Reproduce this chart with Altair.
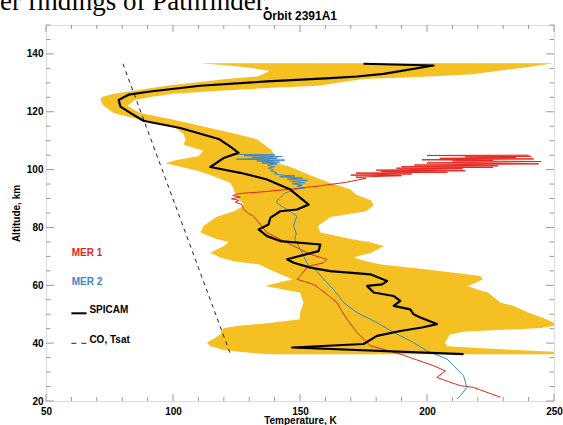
import altair as alt
import pandas as pd

# ---------------- data ----------------
band_alt = [136.8, 136.0, 135.1, 134.2, 133.0, 132.2, 131.3, 130.0, 129.0, 128.2,
            127.3, 126.2, 125.1, 124.1, 122.1, 119.6, 117.2, 114.9, 112.5, 110.5,
            108.6, 106.5, 104.6, 103.2, 102.2, 101.0, 99.5, 97.7, 95.4, 93.1,
            91.4, 89.3, 87.6, 85.6, 83.6, 80.5, 78.3, 76.0, 75.0, 73.6,
            71.3, 69.6, 68.3, 67.2, 65.5, 63.2, 62.1, 60.8, 59.8, 58.5,
            57.5, 54.0, 52.9, 50.5, 48.3, 47.0, 46.0, 45.2, 44.0, 43.0,
            41.5, 40.2, 38.9, 37.6, 37.0, 36.2]
band_lo = [110.7, 122, 131, 138, 135.5, 133, 121, 108, 97.6, 91.5,
           84.5, 76.6, 72, 71.4, 72.7, 76.6, 87.1, 100.2, 104, 105,
           104.2, 112, 110, 101, 97, 103, 110, 116, 122.6, 124,
           124.5, 126.5, 128, 124, 117, 112, 110.8, 117, 122, 120,
           114.7, 118.6, 124, 134, 138, 144, 147, 141, 136.3, 144,
           150, 151.4, 151, 150, 150, 138, 126, 120, 119, 118.6,
           116, 113.4, 114.7, 120, 126, 137]
band_hi = [250, 244, 237, 228, 218, 201, 175, 165, 157, 137,
           118, 100, 91, 85, 82, 87, 100.2, 112, 124, 133,
           136, 139, 140, 138, 141, 146, 150, 155, 162, 170,
           172, 178, 179, 176, 162, 157, 158, 170, 177, 183,
           178, 171, 176, 182, 200, 221, 222, 219, 216, 220,
           224, 229, 234, 240, 247, 250, 250, 245, 215, 209,
           208, 207, 208, 235, 250, 250]

spicam_T = [175, 202.6, 182.9, 172.4, 162, 137, 110.7, 91, 82.5, 78.6,
            79.3, 83.2, 88.3, 102.9, 118, 123, 125.8, 119.9, 114.7, 126.5,
            137, 146.2, 153.4, 148.8, 142.2, 138.3, 137.6, 133.7, 137, 142.2,
            158, 157.3, 144.9, 147.5, 154.1, 161.9, 177.7, 184.3, 182.3, 176.4,
            179, 186.9, 189.5, 186.9, 193.4, 194.7, 197.4, 203.9, 198, 189.5,
            180.3, 175, 146.9, 214.4]
spicam_alt = [136.6, 136.0, 133.1, 132.2, 131.6, 130.5, 129.0, 127.0, 125.9, 124.1,
              121.8, 119.6, 116.9, 114.4, 110.6, 107.7, 105.8, 104.0, 100.9, 98.9,
              96.6, 93.1, 87.9, 86.2, 85.6, 83.3, 81.0, 79.3, 77.0, 75.3,
              74.1, 71.8, 69.0, 67.8, 66.1, 64.9, 63.8, 61.5, 60.3, 59.8,
              57.5, 56.3, 54.6, 52.9, 51.7, 50.0, 48.9, 46.6, 45.4, 44.2,
              42.5, 39.7, 38.5, 36.2]

mer1_T = [240, 200, 241, 215, 235, 205, 242, 198, 226, 210,
          245, 200, 244, 195, 228, 190, 226, 188, 214, 180,
          215, 182, 208, 172, 194, 170, 190, 172, 176, 168,
          158, 146, 135, 125.8, 123.5, 126.5, 123, 126, 124.5, 127.2,
          127.8, 129.5, 131.7, 134.4, 137, 142.2, 147.5, 154.1, 160.6, 159.3,
          153, 150.1, 148.8, 155.4, 160.6, 164.6, 166.5, 168.5, 172.4, 177.7,
          189.5, 202.6, 207.2, 203.9, 206.5, 213.1, 218.3, 228.9]
mer1_alt = [105.0, 104.9, 104.6, 104.4, 104.2, 103.9, 103.7, 103.4, 103.2, 103.0,
            102.8, 102.3, 102.0, 101.6, 101.3, 101.0, 100.8, 100.5, 100.3, 99.8,
            99.6, 99.3, 99.1, 98.8, 98.5, 98.1, 97.9, 97.4, 97.0, 95.6,
            94.4, 93.2, 92.3, 91.7, 91.0, 90.5, 89.9, 89.4, 88.8, 87.9,
            86.2, 85.0, 83.9, 81.0, 78.2, 75.9, 73.6, 70.7, 69.0, 67.8,
            66.5, 63.2, 62.1, 60.3, 56.9, 54.0, 51.0, 48.3, 43.7, 39.1,
            36.2, 32.2, 30.4, 28.2, 27.3, 25.3, 24.7, 21.3]

mer2_T = [126, 140, 128, 143, 131, 141, 125, 144, 133, 142,
          135, 141, 137, 140, 137.5, 139.5, 138.5, 141, 140, 143,
          148, 142, 151, 145, 153, 146, 152, 147, 151, 148.8,
          152, 148, 146, 144, 143, 142.2, 141, 140.9, 143, 144.9,
          147, 148.8, 148, 147.5, 148.5, 148, 149.5, 150.8, 152, 153.4,
          156, 159.3, 163.2, 167.2, 172.4, 180.3, 186.9, 194.7, 200, 207.9,
          211.8, 214.4, 215.7, 213.1, 211.8]
mer2_alt = [105.3, 105.1, 104.8, 104.5, 104.2, 103.9, 103.6, 103.3, 103.0, 102.6,
            102.3, 102.0, 101.5, 101.0, 100.5, 100.0, 99.5, 99.0, 98.5, 98.1,
            97.8, 97.5, 97.1, 96.7, 96.3, 95.9, 95.5, 95.1, 94.7, 94.2,
            93.7, 93.1, 92.5, 91.8, 91.0, 90.2, 89.3, 88.5, 87.2, 86.2,
            85.0, 83.9, 82.2, 80.4, 78.0, 75.9, 73.5, 71.3, 69.0, 66.7,
            65.5, 62.1, 58.6, 54.0, 50.6, 47.1, 43.7, 40.2, 37.3, 34.5,
            31.0, 28.7, 24.7, 21.8, 20.7]

tsat_T = [80.3, 122.6]
tsat_alt = [136.6, 36.2]

x_labels = [50, 100, 150, 200, 250]
y_labels = [20, 40, 60, 80, 100, 120, 140]
x_minor = [v for v in range(50, 251, 10) if v % 50]
y_minor = [v for v in range(20, 151, 5) if v % 20]

title_text = "Orbit 2391A1"
page_text = "er findings of Pathfinder."

# ---------------- styling ----------------
W, H = 508, 376
YELLOW = "#f5c022"
RED = "#e3261f"
BLUE = "#3b87c9"
GRAY = "#999999"
SANS = "Liberation Sans"

xs = alt.Scale(domain=[50, 250], nice=False, zero=False)
ys = alt.Scale(domain=[20, 150], nice=False, zero=False)

xaxis = alt.Axis(values=x_labels, ticks=False, domain=False, grid=False,
                 labelFont=SANS, labelFontWeight="bold", labelFontSize=10,
                 labelColor="black", labelPadding=5, labelFlush=False, labelOverlap=False,
                 titleFont=SANS, titleFontWeight="bold", titleFontSize=10, titleColor="black",
                 titleX=254, titleY=22.5, titleBaseline="alphabetic", titleAlign="center")
yaxis = alt.Axis(values=y_labels, ticks=False, domain=False, grid=False,
                 labelFont=SANS, labelFontWeight="bold", labelFontSize=10,
                 labelColor="black", labelPadding=3, labelFlush=False, labelOverlap=False,
                 titleFont=SANS, titleFontWeight="bold", titleFontSize=10, titleColor="black",
                 titleX=-27, titleY=188, titleAngle=270, titleBaseline="alphabetic",
                 titleAlign="center")

XT = "Temperature, K"
YT = "Altitude, km"


def X(f):
    return alt.X(f, type="quantitative", scale=xs, axis=xaxis, title=XT)


def Y(f):
    return alt.Y(f, type="quantitative", scale=ys, axis=yaxis, title=YT)


band_df = pd.DataFrame({"alt": band_alt, "lo": band_lo, "hi": band_hi})
band = alt.Chart(band_df).mark_area(orient="horizontal", color=YELLOW, opacity=1,
                                    interpolate="linear").encode(
    y=Y("alt"), x=X("lo"), x2=alt.X2("hi"))


def line(T, A, color, width, dash=None):
    df = pd.DataFrame({"T": T, "alt": A, "i": range(len(T))})
    kw = dict(color=color, strokeWidth=width, strokeJoin="round")
    if dash:
        kw["strokeDash"] = dash
    return alt.Chart(df).mark_line(**kw).encode(x=X("T"), y=Y("alt"), order=alt.Order("i:Q"))


tsat = line(tsat_T, tsat_alt, "#222222", 1, [4, 4])
mer1 = line(mer1_T, mer1_alt, RED, 1)
mer2 = line(mer2_T, mer2_alt, BLUE, 1)
spicam = line(spicam_T, spicam_alt, "black", 2.2)


def xticks(vals, length):
    df = pd.DataFrame({"v": vals})
    bot = alt.Chart(df).mark_rule(color=GRAY, strokeWidth=1).encode(
        x=X("v"), y=alt.value(H), y2=alt.value(H - length))
    top = alt.Chart(df).mark_rule(color=GRAY, strokeWidth=1).encode(
        x=X("v"), y=alt.value(0), y2=alt.value(length))
    return [bot, top]


def yticks(vals, length):
    df = pd.DataFrame({"v": vals})
    left = alt.Chart(df).mark_rule(color=GRAY, strokeWidth=1).encode(
        y=Y("v"), x=alt.value(0), x2=alt.value(length))
    right = alt.Chart(df).mark_rule(color=GRAY, strokeWidth=1).encode(
        y=Y("v"), x=alt.value(W), x2=alt.value(W - length))
    return [left, right]


ticks = xticks(x_labels, 7) + xticks(x_minor, 4) + yticks(y_labels, 8) + yticks(y_minor, 4.5)

one = pd.DataFrame({"k": [0]})


def label(text, x, y, color, size=10, weight="bold", font=SANS, align="left",
          baseline="middle"):
    return alt.Chart(one).mark_text(text=text, color=color, fontSize=size, fontWeight=weight,
                                    font=font, align=align, baseline=baseline).encode(
        x=alt.value(x), y=alt.value(y))


def seg(y, color, width, dash=None):
    kw = dict(color=color, strokeWidth=width)
    if dash:
        kw["strokeDash"] = dash
    return alt.Chart(one).mark_rule(**kw).encode(
        x=alt.value(25.4), x2=alt.value(40.5), y=alt.value(y))


legend = [
    label("MER 1", 25.7, 227.7, RED),
    label("MER 2", 25.7, 256.7, BLUE),
    seg(288.3, "black", 2),
    label("SPICAM", 43.4, 285, "black"),
    seg(318.3, "#222222", 1, [5, 5]),
    label("CO, Tsat", 43.4, 315, "black"),
]

texts = [
    label(title_text, 254, -5, "black", size=12, align="center", baseline="alphabetic"),
    label(page_text, -46, -15, "black", size=27, weight="normal",
          font="Liberation Serif", baseline="alphabetic"),
]

chart = alt.layer(band, tsat, mer1, mer2, spicam, *ticks, *legend, *texts).properties(
    width=W, height=H,
    autosize=alt.AutoSizeParams(type="none"),
    padding={"left": 46, "top": 25, "right": 9, "bottom": 24},
).configure_view(stroke=GRAY, strokeWidth=1).configure(background="white")

chart.save("out.html", embed_options={"renderer": "svg", "actions": False})
